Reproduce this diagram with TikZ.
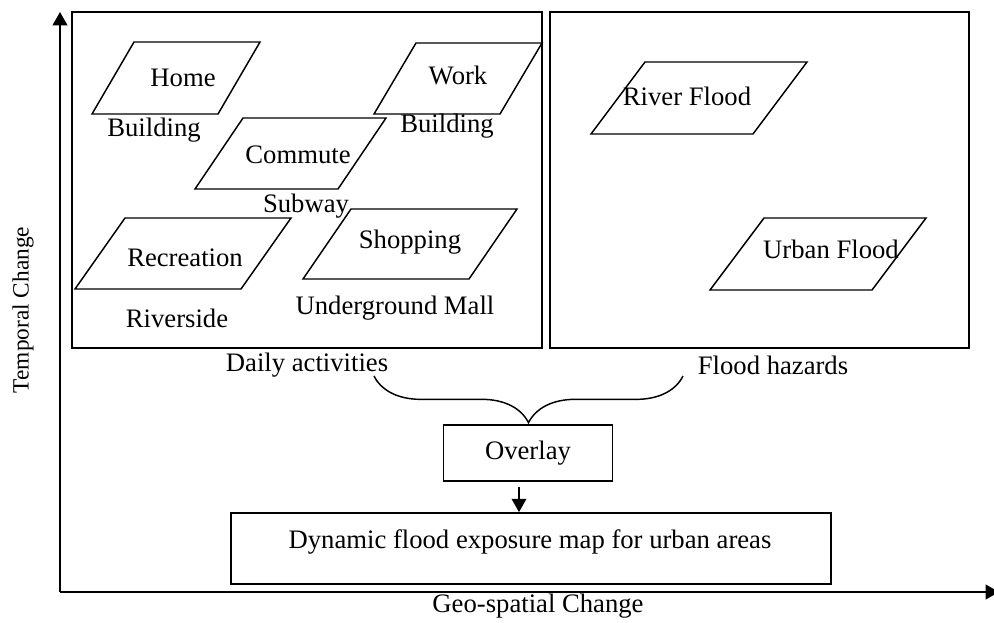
\documentclass[tikz,border=0pt]{standalone}
\usepackage{fontspec}
\setmainfont{Liberation Serif}
\usetikzlibrary{arrows.meta,decorations.pathreplacing}

\begin{document}
\begin{tikzpicture}[x=0.75pt,y=-0.75pt,
  every node/.style={inner sep=0pt,font=\fontsize{20}{24}\selectfont},
  frame/.style={draw=black,line width=1.3pt},
  para/.style={draw=black,line width=1.1pt,line join=miter},
  axis/.style={draw=black,line width=1.3pt,-{Triangle[width=11pt,length=10pt]}},
  flow/.style={draw=black,line width=1.1pt,-{Triangle[width=11pt,length=10pt]}}]
\useasboundingbox (0,0) rectangle (994,622);
% axes
\coordinate (origin) at (60,592);
\coordinate (ytop) at (60,12);
\coordinate (xend) at (999,592);
\draw [axis] (origin) -- (ytop);
\draw [axis] (origin) -- (xend);
\node (tlabel) [rotate=90,font=\fontsize{17.5}{21}\selectfont] at (23,310) {Temporal Change};
\node (glabel) at (538,606) {Geo-spatial Change};
% daily activities
\draw [frame] (72,12) rectangle (542,348);
\draw [para] (92,114) -- ++(126,0) -- ++(42,-72) -- ++(-126,0) -- cycle;
\node (home) at (183,78) {Home};
\node (homeb) at (154,130) {Building};
\draw [para] (374,114) -- ++(126,0) -- ++(42,-71) -- ++(-126,0) -- cycle;
\node (work) at (458,75) {Work};
\node (workb) at (447,126) {Building};
\draw [para] (195,189) -- ++(143,0) -- ++(48,-71) -- ++(-143,0) -- cycle;
\node (commute) at (298,155) {Commute};
\node (subway) at (306,206) {Subway};
\draw [para] (75,289) -- ++(166,0) -- ++(50,-71) -- ++(-166,0) -- cycle;
\node (recreation) at (185,258) {Recreation};
\node (riverside) at (177,318) {Riverside};
\draw [para] (303,279) -- ++(166,0) -- ++(48,-70) -- ++(-166,0) -- cycle;
\node (shopping) at (410,242) {Shopping};
\node (mall) at (395,308) {Underground Mall};
\node (daily) at (307,365) {Daily activities};
% flood hazards
\draw [frame] (550,12) rectangle (969,348);
\draw [para] (591,134) -- ++(162,0) -- ++(54,-72) -- ++(-162,0) -- cycle;
\node (river) at (687,96) {River Flood};
\draw [para] (710,290) -- ++(162,0) -- ++(54,-72) -- ++(-162,0) -- cycle;
\node (urban) at (831,249) {Urban Flood};
\node (hazards) at (773,365) {Flood hazards};
% overlay and result
\node (overlay) [frame,minimum width=126.75pt,minimum height=42pt] at (528,453) {Overlay};
\node (dyn) [frame,minimum width=450pt,minimum height=53.25pt] at (531,548.5) {};
\node (dyntext) at (530,542) {Dynamic flood exposure map for urban areas};
\coordinate (bl) at (374,376);
\coordinate (br) at (683,376);
\draw [line width=1.1pt,decorate,decoration={brace,amplitude=35pt}] (br) -- (bl);
\draw [flow] ([xshift=-6.75pt,yshift=-3.75pt]overlay.south) -- ([xshift=-6.75pt]overlay.south |- dyn.north);
\end{tikzpicture}
\end{document}
